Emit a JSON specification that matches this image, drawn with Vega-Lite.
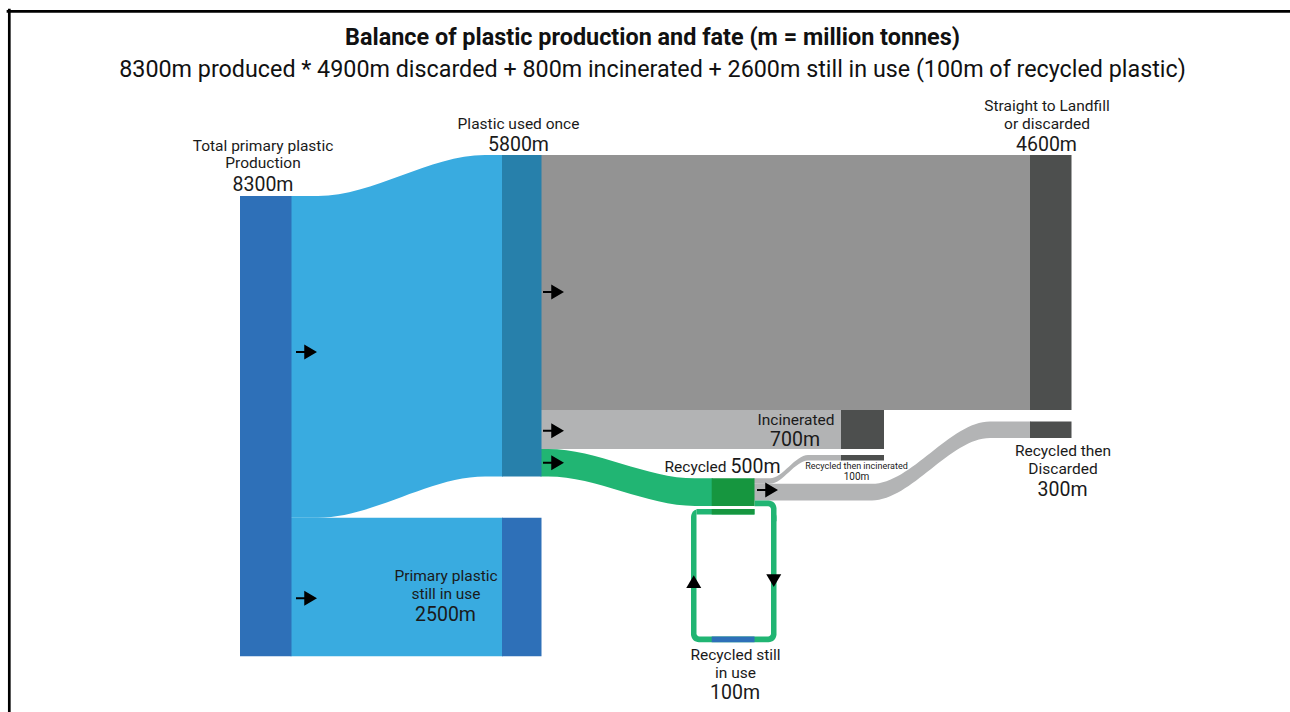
{
  "$schema": "https://vega.github.io/schema/vega-lite/v6.json",
  "width": 1290,
  "height": 712,
  "autosize": "none",
  "padding": 0,
  "background": "white",
  "config": {"view": {"stroke": null}, "font": "Roboto"},
  "datasets": {
    "frame": [
      {"x0": 8, "x1": 1290, "y0": 204, "y1": 204},
      {"x0": 9.3, "x1": 9.3, "y0": 180, "y1": 12840}
    ],
    "links": [
      {"link": "production to used once", "x": 290.5, "y0": 3535, "y1": 9335},
      {"link": "production to used once", "x": 318, "y0": 3535, "y1": 9335},
      {"link": "production to used once", "x": 485, "y0": 2795, "y1": 8595},
      {"link": "production to used once", "x": 503, "y0": 2795, "y1": 8595},
      {"link": "production to still in use", "x": 290.5, "y0": 9335, "y1": 11835},
      {"link": "production to still in use", "x": 503, "y0": 9335, "y1": 11835},
      {"link": "used once to landfill", "x": 540.5, "y0": 2795, "y1": 7395},
      {"link": "used once to landfill", "x": 1031, "y0": 2795, "y1": 7395},
      {"link": "used once to incinerated", "x": 540.5, "y0": 7395, "y1": 8095},
      {"link": "used once to incinerated", "x": 842, "y0": 7395, "y1": 8095},
      {"link": "used once to recycled", "x": 540.5, "y0": 8095, "y1": 8595},
      {"link": "used once to recycled", "x": 548, "y0": 8095, "y1": 8595},
      {"link": "used once to recycled", "x": 695, "y0": 8625, "y1": 9125},
      {"link": "used once to recycled", "x": 712.7, "y0": 8625, "y1": 9125},
      {"link": "recycled to incinerated", "x": 753.5, "y0": 8625, "y1": 8725},
      {"link": "recycled to incinerated", "x": 770, "y0": 8625, "y1": 8725},
      {"link": "recycled to incinerated", "x": 808, "y0": 8205, "y1": 8305},
      {"link": "recycled to incinerated", "x": 842, "y0": 8205, "y1": 8305},
      {"link": "recycled to discarded", "x": 753.5, "y0": 8725, "y1": 9025},
      {"link": "recycled to discarded", "x": 872, "y0": 8725, "y1": 9025},
      {"link": "recycled to discarded", "x": 990, "y0": 7600, "y1": 7900},
      {"link": "recycled to discarded", "x": 1031, "y0": 7600, "y1": 7900}
    ],
    "loop": [
      {"part": "outer", "x0": 691, "x1": 776.5, "y0": 9180, "y1": 11580},
      {"part": "exit", "x0": 754.5, "x1": 776.5, "y0": 9025, "y1": 9400},
      {"part": "hollow", "x0": 696.5, "x1": 771, "y0": 9130, "y1": 11480},
      {"part": "return", "x0": 696.5, "x1": 754.5, "y0": 9180, "y1": 9280}
    ],
    "nodes": [
      {"node": "Total primary plastic production", "x0": 240, "x1": 291.5, "y0": 3535, "y1": 11835},
      {"node": "Plastic used once", "x0": 502, "x1": 541.5, "y0": 2795, "y1": 8595},
      {"node": "Primary plastic still in use", "x0": 502, "x1": 541.5, "y0": 9335, "y1": 11835},
      {"node": "Straight to landfill or discarded", "x0": 1030, "x1": 1071.5, "y0": 2795, "y1": 7395},
      {"node": "Incinerated", "x0": 841, "x1": 884, "y0": 7395, "y1": 8095},
      {"node": "Recycled", "x0": 711.7, "x1": 754.5, "y0": 8625, "y1": 9125},
      {"node": "Recycled then incinerated", "x0": 841, "x1": 884, "y0": 8205, "y1": 8305},
      {"node": "Recycled then discarded", "x0": 1030, "x1": 1071.5, "y0": 7600, "y1": 7900},
      {"node": "Recycled still in use", "x0": 711.7, "x1": 754.5, "y0": 11480, "y1": 11580},
      {"node": "Recycled back into use", "x0": 711.7, "x1": 754.5, "y0": 9180, "y1": 9280}
    ],
    "arrows": [
      {"dir": "right", "x": 305.75, "y": 6348},
      {"dir": "right", "x": 305.75, "y": 10790},
      {"dir": "right", "x": 552.75, "y": 5266},
      {"dir": "right", "x": 552.75, "y": 7767},
      {"dir": "right", "x": 552.75, "y": 8344},
      {"dir": "right", "x": 766.75, "y": 8837},
      {"dir": "up", "x": 693.75, "y": 10487},
      {"dir": "down", "x": 773.75, "y": 10469}
    ],
    "labels": [
      {"role": "title", "text": "Balance of plastic production and fate (m = million tonnes)", "x": 652.5, "y": 680},
      {"role": "subtitle", "text": "8300m produced * 4900m discarded + 800m incinerated + 2600m still in use (100m of recycled plastic)", "x": 652.5, "y": 1255},
      {"role": "name", "text": "Total primary plastic", "x": 263, "y": 2633},
      {"role": "name", "text": "Production", "x": 263, "y": 2940},
      {"role": "value", "text": "8300m", "x": 263, "y": 3330},
      {"role": "name", "text": "Plastic used once", "x": 518.5, "y": 2236},
      {"role": "value", "text": "5800m", "x": 518.5, "y": 2610},
      {"role": "name", "text": "Straight to Landfill", "x": 1047, "y": 1905},
      {"role": "name", "text": "or discarded", "x": 1047, "y": 2236},
      {"role": "value", "text": "4600m", "x": 1046.5, "y": 2610},
      {"role": "name", "text": "Incinerated", "x": 796, "y": 7574},
      {"role": "value", "text": "700m", "x": 795, "y": 7932},
      {"role": "name-end", "text": "Recycled", "x": 726.5, "y": 8422},
      {"role": "value-start", "text": "500m", "x": 730.5, "y": 8426},
      {"role": "note", "text": "Recycled then incinerated", "x": 856.5, "y": 8404},
      {"role": "note-value", "text": "100m", "x": 856.5, "y": 8602},
      {"role": "name", "text": "Recycled then", "x": 1063, "y": 8128},
      {"role": "name", "text": "Discarded", "x": 1063, "y": 8463},
      {"role": "value", "text": "300m", "x": 1062.5, "y": 8828},
      {"role": "name", "text": "Primary plastic", "x": 446, "y": 10387},
      {"role": "name", "text": "still in use", "x": 446, "y": 10717},
      {"role": "value", "text": "2500m", "x": 445.5, "y": 11083},
      {"role": "name", "text": "Recycled still", "x": 735.5, "y": 11812},
      {"role": "name", "text": "in use", "x": 735.5, "y": 12142},
      {"role": "value", "text": "100m", "x": 735, "y": 12495}
    ]
  },
  "resolve": {"scale": {"color": "independent", "shape": "independent"}},
  "layer": [
    {
      "data": {"name": "links"},
      "mark": {"type": "area", "interpolate": "monotone", "opacity": 1},
      "encoding": {
        "x": {"field": "x", "type": "quantitative", "scale": {"domain": [0, 1290], "nice": false, "zero": false}, "axis": null},
        "y": {"field": "y0", "type": "quantitative", "stack": null, "scale": {"domain": [0, 12840], "reverse": true, "nice": false, "zero": false}, "axis": null},
        "y2": {"field": "y1"},
        "color": {
          "field": "link", "type": "nominal", "legend": null,
          "scale": {
            "domain": ["production to used once", "production to still in use", "used once to landfill", "used once to incinerated", "used once to recycled", "recycled to incinerated", "recycled to discarded"],
            "range": ["#39abe0", "#39abe0", "#939393", "#b2b3b4", "#21b573", "#b3b4b5", "#b3b4b5"]
          }
        }
      }
    },
    {
      "data": {"name": "loop"},
      "transform": [{"filter": "datum.part === 'outer'"}],
      "mark": {"type": "rect", "color": "#21b573", "cornerRadius": 8, "opacity": 1},
      "encoding": {
        "x": {"field": "x0", "type": "quantitative", "scale": {"domain": [0, 1290], "nice": false, "zero": false}, "axis": null},
        "x2": {"field": "x1"},
        "y": {"field": "y0", "type": "quantitative", "scale": {"domain": [0, 12840], "reverse": true, "nice": false, "zero": false}, "axis": null},
        "y2": {"field": "y1"}
      }
    },
    {
      "data": {"name": "loop"},
      "transform": [{"filter": "datum.part === 'exit'"}],
      "mark": {"type": "rect", "color": "#21b573", "cornerRadiusTopRight": 8, "opacity": 1},
      "encoding": {
        "x": {"field": "x0", "type": "quantitative", "scale": {"domain": [0, 1290], "nice": false, "zero": false}, "axis": null},
        "x2": {"field": "x1"},
        "y": {"field": "y0", "type": "quantitative", "scale": {"domain": [0, 12840], "reverse": true, "nice": false, "zero": false}, "axis": null},
        "y2": {"field": "y1"}
      }
    },
    {
      "data": {"name": "loop"},
      "transform": [{"filter": "datum.part === 'hollow'"}],
      "mark": {"type": "rect", "color": "white", "cornerRadius": 3, "opacity": 1},
      "encoding": {
        "x": {"field": "x0", "type": "quantitative", "scale": {"domain": [0, 1290], "nice": false, "zero": false}, "axis": null},
        "x2": {"field": "x1"},
        "y": {"field": "y0", "type": "quantitative", "scale": {"domain": [0, 12840], "reverse": true, "nice": false, "zero": false}, "axis": null},
        "y2": {"field": "y1"}
      }
    },
    {
      "data": {"name": "loop"},
      "transform": [{"filter": "datum.part === 'return'"}],
      "mark": {"type": "rect", "color": "#21b573", "opacity": 1},
      "encoding": {
        "x": {"field": "x0", "type": "quantitative", "scale": {"domain": [0, 1290], "nice": false, "zero": false}, "axis": null},
        "x2": {"field": "x1"},
        "y": {"field": "y0", "type": "quantitative", "scale": {"domain": [0, 12840], "reverse": true, "nice": false, "zero": false}, "axis": null},
        "y2": {"field": "y1"}
      }
    },
    {
      "data": {"name": "nodes"},
      "mark": {"type": "rect", "opacity": 1},
      "encoding": {
        "x": {"field": "x0", "type": "quantitative", "scale": {"domain": [0, 1290], "nice": false, "zero": false}, "axis": null},
        "x2": {"field": "x1"},
        "y": {"field": "y0", "type": "quantitative", "scale": {"domain": [0, 12840], "reverse": true, "nice": false, "zero": false}, "axis": null},
        "y2": {"field": "y1"},
        "color": {
          "field": "node", "type": "nominal", "legend": null,
          "scale": {
            "domain": ["Total primary plastic production", "Plastic used once", "Primary plastic still in use", "Straight to landfill or discarded", "Incinerated", "Recycled", "Recycled then incinerated", "Recycled then discarded", "Recycled still in use", "Recycled back into use"],
            "range": ["#2e70b8", "#2780ab", "#2e70b8", "#4d4f4e", "#4d4f4e", "#16963f", "#4d4f4e", "#4d4f4e", "#2e70b8", "#16963f"]
          }
        }
      }
    },
    {
      "data": {"name": "arrows"},
      "mark": {"type": "point", "filled": true, "color": "#000000", "opacity": 1, "size": 225, "strokeWidth": 0},
      "encoding": {
        "x": {"field": "x", "type": "quantitative", "scale": {"domain": [0, 1290], "nice": false, "zero": false}, "axis": null},
        "y": {"field": "y", "type": "quantitative", "scale": {"domain": [0, 12840], "reverse": true, "nice": false, "zero": false}, "axis": null},
        "shape": {
          "field": "dir", "type": "nominal", "legend": null,
          "scale": {
            "domain": ["right", "up", "down"],
            "range": ["M-1.3,-0.14L-0.2,-0.14L-0.2,-1L1.5,0L-0.2,1L-0.2,0.14L-1.3,0.14Z", "M-1,0.85L0,-0.85L1,0.85Z", "M-1,-0.85L1,-0.85L0,0.85Z"]
          }
        }
      }
    },
    {
      "data": {"name": "frame"},
      "mark": {"type": "rule", "color": "#000000", "strokeWidth": 2.7, "strokeCap": "square"},
      "encoding": {
        "x": {"field": "x0", "type": "quantitative", "scale": {"domain": [0, 1290], "nice": false, "zero": false}, "axis": null},
        "x2": {"field": "x1"},
        "y": {"field": "y0", "type": "quantitative", "scale": {"domain": [0, 12840], "reverse": true, "nice": false, "zero": false}, "axis": null},
        "y2": {"field": "y1"}
      }
    },
    {
      "data": {"name": "labels"},
      "transform": [{"filter": "datum.role === 'title'"}],
      "mark": {"type": "text", "font": "Roboto", "fontWeight": "bold", "fontSize": 23.4, "color": "#111111", "align": "center", "baseline": "middle"},
      "encoding": {
        "x": {"field": "x", "type": "quantitative", "scale": {"domain": [0, 1290], "nice": false, "zero": false}, "axis": null},
        "y": {"field": "y", "type": "quantitative", "scale": {"domain": [0, 12840], "reverse": true, "nice": false, "zero": false}, "axis": null},
        "text": {"field": "text"}
      }
    },
    {
      "data": {"name": "labels"},
      "transform": [{"filter": "datum.role === 'subtitle'"}],
      "mark": {"type": "text", "font": "Roboto", "fontSize": 23.3, "color": "#111111", "align": "center", "baseline": "middle"},
      "encoding": {
        "x": {"field": "x", "type": "quantitative", "scale": {"domain": [0, 1290], "nice": false, "zero": false}, "axis": null},
        "y": {"field": "y", "type": "quantitative", "scale": {"domain": [0, 12840], "reverse": true, "nice": false, "zero": false}, "axis": null},
        "text": {"field": "text"}
      }
    },
    {
      "data": {"name": "labels"},
      "transform": [{"filter": "datum.role === 'name'"}],
      "mark": {"type": "text", "font": "Roboto", "fontSize": 15.5, "color": "#1a1a1a", "align": "center", "baseline": "middle"},
      "encoding": {
        "x": {"field": "x", "type": "quantitative", "scale": {"domain": [0, 1290], "nice": false, "zero": false}, "axis": null},
        "y": {"field": "y", "type": "quantitative", "scale": {"domain": [0, 12840], "reverse": true, "nice": false, "zero": false}, "axis": null},
        "text": {"field": "text"}
      }
    },
    {
      "data": {"name": "labels"},
      "transform": [{"filter": "datum.role === 'name-end'"}],
      "mark": {"type": "text", "font": "Roboto", "fontSize": 15.5, "color": "#1a1a1a", "align": "right", "baseline": "middle"},
      "encoding": {
        "x": {"field": "x", "type": "quantitative", "scale": {"domain": [0, 1290], "nice": false, "zero": false}, "axis": null},
        "y": {"field": "y", "type": "quantitative", "scale": {"domain": [0, 12840], "reverse": true, "nice": false, "zero": false}, "axis": null},
        "text": {"field": "text"}
      }
    },
    {
      "data": {"name": "labels"},
      "transform": [{"filter": "datum.role === 'value'"}],
      "mark": {"type": "text", "font": "Roboto", "fontSize": 19.5, "color": "#1a1a1a", "align": "center", "baseline": "middle"},
      "encoding": {
        "x": {"field": "x", "type": "quantitative", "scale": {"domain": [0, 1290], "nice": false, "zero": false}, "axis": null},
        "y": {"field": "y", "type": "quantitative", "scale": {"domain": [0, 12840], "reverse": true, "nice": false, "zero": false}, "axis": null},
        "text": {"field": "text"}
      }
    },
    {
      "data": {"name": "labels"},
      "transform": [{"filter": "datum.role === 'value-start'"}],
      "mark": {"type": "text", "font": "Roboto", "fontSize": 19.5, "color": "#1a1a1a", "align": "left", "baseline": "middle"},
      "encoding": {
        "x": {"field": "x", "type": "quantitative", "scale": {"domain": [0, 1290], "nice": false, "zero": false}, "axis": null},
        "y": {"field": "y", "type": "quantitative", "scale": {"domain": [0, 12840], "reverse": true, "nice": false, "zero": false}, "axis": null},
        "text": {"field": "text"}
      }
    },
    {
      "data": {"name": "labels"},
      "transform": [{"filter": "datum.role === 'note'"}],
      "mark": {"type": "text", "font": "Roboto", "fontSize": 9, "color": "#1a1a1a", "align": "center", "baseline": "middle"},
      "encoding": {
        "x": {"field": "x", "type": "quantitative", "scale": {"domain": [0, 1290], "nice": false, "zero": false}, "axis": null},
        "y": {"field": "y", "type": "quantitative", "scale": {"domain": [0, 12840], "reverse": true, "nice": false, "zero": false}, "axis": null},
        "text": {"field": "text"}
      }
    },
    {
      "data": {"name": "labels"},
      "transform": [{"filter": "datum.role === 'note-value'"}],
      "mark": {"type": "text", "font": "Roboto", "fontSize": 10, "color": "#1a1a1a", "align": "center", "baseline": "middle"},
      "encoding": {
        "x": {"field": "x", "type": "quantitative", "scale": {"domain": [0, 1290], "nice": false, "zero": false}, "axis": null},
        "y": {"field": "y", "type": "quantitative", "scale": {"domain": [0, 12840], "reverse": true, "nice": false, "zero": false}, "axis": null},
        "text": {"field": "text"}
      }
    }
  ]
}
